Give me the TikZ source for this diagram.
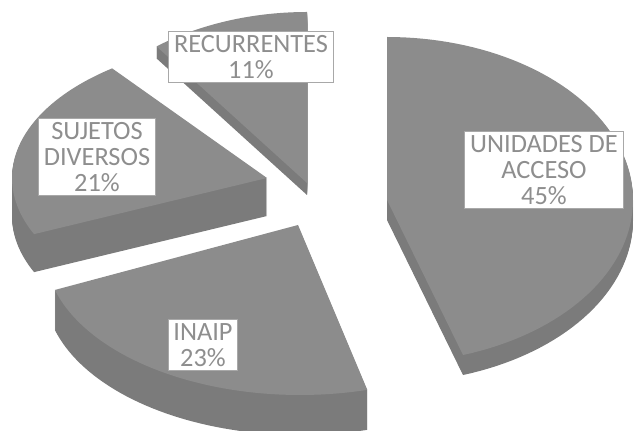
\documentclass[tikz,border=0pt]{standalone}
\usepackage{fontspec}
\setmainfont{Carlito}
\definecolor{cara_sup}{HTML}{8C8C8C}
\definecolor{cara_lat}{HTML}{7B7B7B}
\definecolor{texto_etq}{HTML}{8E8E8E}
\definecolor{borde_etq}{HTML}{A8A8A8}

\begin{document}
\begin{tikzpicture}[
    x=0.02cm, y=-0.02cm,
    % Stile per le etichette delle porzioni
    etiqueta/.style = {
        fill=white,
        draw=borde_etq,
        line width=0.5pt,
        text=texto_etq,
        align=center,
        inner xsep=3pt,
        inner ysep=2.5pt,
        font=\fontsize{15}{14.6}\selectfont
    }
]
\useasboundingbox (0,0) rectangle (641,431);
\clip (0,0) rectangle (641,431);

% 1. Recurrentes (11%)
\foreach \h in {1,...,12}
    \fill[cara_lat, shift={(0,\h)}] (307,183) -- plot[domain=90:127, samples=40] ({307+250*cos(\x)},{183-171*sin(\x)}) -- cycle;
\fill[cara_sup] (307,183) -- plot[domain=90:127, samples=40] ({307+250*cos(\x)},{183-171*sin(\x)}) -- cycle;

% 2. Sujetos diversos (21%)
\foreach \h in {1,...,38}
    \fill[cara_lat, shift={(0,\h)}] (267,178) -- plot[domain=127.4:204, samples=50] ({267+255*cos(\x)},{178-138*sin(\x)}) -- cycle;
\fill[cara_sup] (267,178) -- plot[domain=127.4:204, samples=50] ({267+255*cos(\x)},{178-138*sin(\x)}) -- cycle;

% 3. Unidades de acceso (45%)
\foreach \h in {1,...,20}
    \fill[cara_lat, shift={(0,\h)}] (387,200) -- plot[domain=90:-72, samples=80] ({387+246*cos(\x)},{200-163*sin(\x)}) -- cycle;
\fill[cara_sup] (387,200) -- plot[domain=90:-72, samples=80] ({387+246*cos(\x)},{200-163*sin(\x)}) -- cycle;

% 4. INAIP (23%)
\foreach \h in {1,...,40}
    \fill[cara_lat, shift={(0,\h)}] (298,225) -- plot[domain=196:285.3, samples=50] ({300+255*cos(\x)},{250-145*sin(\x)}) -- cycle;
\fill[cara_sup] (298,225) -- plot[domain=196:285.3, samples=50] ({300+255*cos(\x)},{250-145*sin(\x)}) -- cycle;

% 5. Etichette
\node[etiqueta] (etq_rec) at (251,57) {RECURRENTES\\11\%};
\node[etiqueta] (etq_suj) at (97,157) {SUJETOS\\DIVERSOS\\21\%};
\node[etiqueta] (etq_uni) at (544,170) {UNIDADES DE\\ACCESO\\45\%};
\node[etiqueta] (etq_ina) at (203,345) {INAIP\\23\%};

\end{tikzpicture}
\end{document}
